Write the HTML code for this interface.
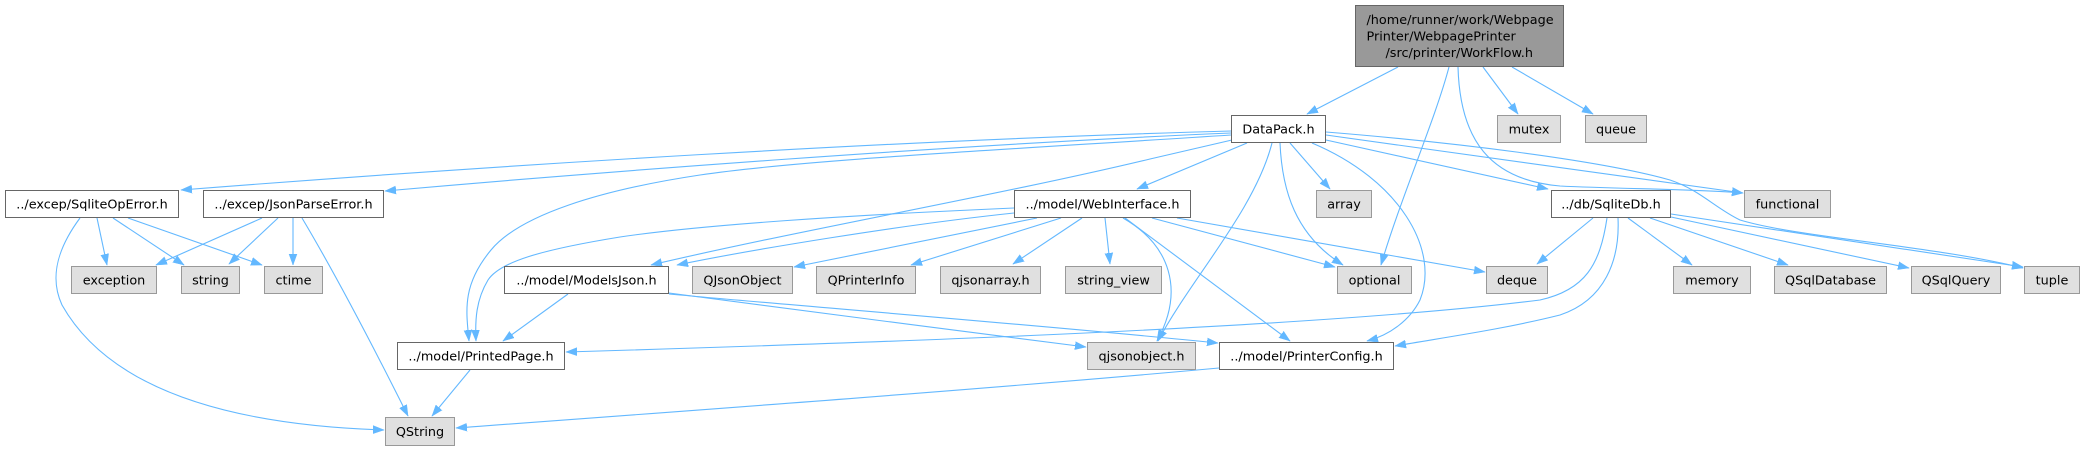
<!DOCTYPE html>
<html>
<head>
<meta charset="utf-8">
<style>
html,body{margin:0;padding:0;background:#ffffff;}
svg{display:block;}
text{font-family:"DejaVu Sans","Liberation Sans",sans-serif;font-size:12.8px;fill:#000;}
</style>
</head>
<body>
<svg xmlns="http://www.w3.org/2000/svg" width="2085" height="451" viewBox="0 0 2085 451">
<defs>
<marker id="a" markerWidth="12" markerHeight="10" refX="11" refY="4.5" orient="auto" markerUnits="userSpaceOnUse">
<path d="M0,0.5 L11,4.5 L0,8.5 Z" fill="#63b8ff" stroke="#63b8ff" stroke-width="0.5"/>
</marker>
</defs>
<rect width="2085" height="451" fill="#ffffff"/>

<g fill="none" stroke="#63b8ff" stroke-width="1.1" marker-end="url(#a)">
<!-- root edges -->
<path d="M1398,67 L1307,114"/>
<path d="M1449,67 C1435,120 1400,200 1381,265"/>
<path d="M1483,67 L1518,114"/>
<path d="M1512,67 L1593,114"/>
<path d="M1458,67 C1460,140 1490,180 1560,186 C1620,189 1700,189 1743,193"/>
<!-- DataPack edges -->
<path d="M1231,131 C900,140 500,165 181,190"/>
<path d="M1231,133 C950,145 600,172 385,191"/>
<path d="M1231,135 C1000,150 800,160 700,175 C600,190 520,215 491,250 C462,285 466,310 469,341"/>
<path d="M1232,140 L1150,159 C1000,195 800,230 651,265"/>
<path d="M1247,143 L1137,189"/>
<path d="M1272,143 C1255,210 1190,280 1158,341"/>
<path d="M1290,143 L1330,189"/>
<path d="M1280,143 C1282,190 1295,235 1343,265"/>
<path d="M1312,143 C1400,180 1440,250 1420,300 C1410,320 1390,335 1367,341"/>
<path d="M1326,140 L1548,189"/>
<path d="M1326,135 C1500,160 1650,180 1743,193"/>
<path d="M1326,132 C1450,142 1600,160 1670,180 C1700,190 1715,208 1740,220 C1800,238 1930,245 2023,268"/>
<!-- WebInterface edges -->
<path d="M1014,213 C900,225 750,250 677,265"/>
<path d="M1014,208 C850,215 700,225 620,237 C540,250 500,262 488,280 C476,300 475,320 476,341"/>
<path d="M1037,218 L794,267"/>
<path d="M1061,218 L911,265"/>
<path d="M1082,218 L1013,264"/>
<path d="M1105,218 L1110,264"/>
<path d="M1123,218 C1170,245 1185,290 1157,341"/>
<path d="M1125,218 L1290,341"/>
<path d="M1152,218 L1335,267"/>
<path d="M1177,218 L1485,272"/>
<!-- ModelsJson edges -->
<path d="M568,294 L503,341"/>
<path d="M669,293 C800,310 950,330 1086,347"/>
<path d="M669,294 C800,306 1050,326 1218,343"/>
<!-- SqliteDb edges -->
<path d="M1593,218 L1537,264"/>
<path d="M1628,218 L1692,265"/>
<path d="M1650,218 L1788,265"/>
<path d="M1671,217 L1909,268"/>
<path d="M1671,214 L2023,267"/>
<path d="M1607,218 C1600,265 1585,290 1540,300 C1300,330 800,345 566,352"/>
<path d="M1618,218 C1620,260 1605,300 1560,315 C1500,330 1440,338 1395,346"/>
<!-- SqliteOpError edges -->
<path d="M97,218 L107,265"/>
<path d="M113,218 L184,265"/>
<path d="M128,218 L262,265"/>
<path d="M80,218 C60,245 48,275 62,305 C110,390 230,425 384,430"/>
<!-- JsonParseError edges -->
<path d="M262,218 L156,265"/>
<path d="M278,218 L229,264"/>
<path d="M293,218 L293,265"/>
<path d="M302,218 C330,265 370,340 408,416"/>
<!-- to QString -->
<path d="M470,370 L432,416"/>
<path d="M1219,368 C1000,388 700,410 456,428"/>
</g>

<!-- root -->
<rect x="1355.5" y="5.5" width="208" height="61" fill="#999999" stroke="#666666" stroke-width="1"/>
<text x="1366.5" y="24">/home/runner/work/Webpage</text>
<text x="1366.5" y="40.5">Printer/WebpagePrinter</text>
<text x="1385.5" y="57">/src/printer/WorkFlow.h</text>

<!-- white nodes -->
<g fill="#ffffff" stroke="#666666" stroke-width="1">
<rect x="1231.5" y="115.5" width="94" height="27"/>
<rect x="5.5" y="190.5" width="173" height="27"/>
<rect x="203.5" y="190.5" width="180" height="27"/>
<rect x="1014.5" y="190.5" width="176" height="27"/>
<rect x="1551.5" y="190.5" width="119" height="27"/>
<rect x="504.5" y="266.5" width="164" height="27"/>
<rect x="397.5" y="342.5" width="167" height="27"/>
<rect x="1219.5" y="342.5" width="174" height="27"/>
</g>

<!-- gray nodes -->
<g fill="#e0e0e0" stroke="#999999" stroke-width="1">
<rect x="1497.5" y="115.5" width="63" height="27"/>
<rect x="1585.5" y="115.5" width="61" height="27"/>
<rect x="1316.5" y="190.5" width="55" height="27"/>
<rect x="1744.5" y="190.5" width="86" height="27"/>
<rect x="71.5" y="266.5" width="85" height="27"/>
<rect x="181.5" y="266.5" width="58" height="27"/>
<rect x="264.5" y="266.5" width="58" height="27"/>
<rect x="692.5" y="266.5" width="100" height="27"/>
<rect x="816.5" y="266.5" width="99" height="27"/>
<rect x="940.5" y="266.5" width="100" height="27"/>
<rect x="1065.5" y="266.5" width="96" height="27"/>
<rect x="1337.5" y="266.5" width="74" height="27"/>
<rect x="1486.5" y="266.5" width="61" height="27"/>
<rect x="1673.5" y="266.5" width="77" height="27"/>
<rect x="1774.5" y="266.5" width="112" height="27"/>
<rect x="1911.5" y="266.5" width="89" height="27"/>
<rect x="2024.5" y="266.5" width="55" height="27"/>
<rect x="1087.5" y="342.5" width="108" height="27"/>
<rect x="385.5" y="417.5" width="69" height="28"/>
</g>

<g text-anchor="middle">
<text x="1278.5" y="133.5">DataPack.h</text>
<text x="1529" y="133.5">mutex</text>
<text x="1616" y="133.5">queue</text>

<text x="92" y="208.5">../excep/SqliteOpError.h</text>
<text x="293.5" y="208.5">../excep/JsonParseError.h</text>
<text x="1102.5" y="208.5">../model/WebInterface.h</text>
<text x="1344" y="208.5">array</text>
<text x="1611" y="208.5">../db/SqliteDb.h</text>
<text x="1787.5" y="208.5">functional</text>

<text x="114" y="284.5">exception</text>
<text x="210.5" y="284.5">string</text>
<text x="293.5" y="284.5">ctime</text>
<text x="586.5" y="284.5">../model/ModelsJson.h</text>
<text x="742.5" y="284.5">QJsonObject</text>
<text x="866" y="284.5">QPrinterInfo</text>
<text x="990.5" y="284.5">qjsonarray.h</text>
<text x="1113.5" y="284.5">string_view</text>
<text x="1374.5" y="284.5">optional</text>
<text x="1517" y="284.5">deque</text>
<text x="1712" y="284.5">memory</text>
<text x="1830.5" y="284.5">QSqlDatabase</text>
<text x="1956" y="284.5">QSqlQuery</text>
<text x="2052" y="284.5">tuple</text>

<text x="481" y="360.5">../model/PrintedPage.h</text>
<text x="1141.5" y="360.5">qjsonobject.h</text>
<text x="1306.5" y="360.5">../model/PrinterConfig.h</text>

<text x="420" y="436">QString</text>
</g>
</svg>
</body>
</html>
